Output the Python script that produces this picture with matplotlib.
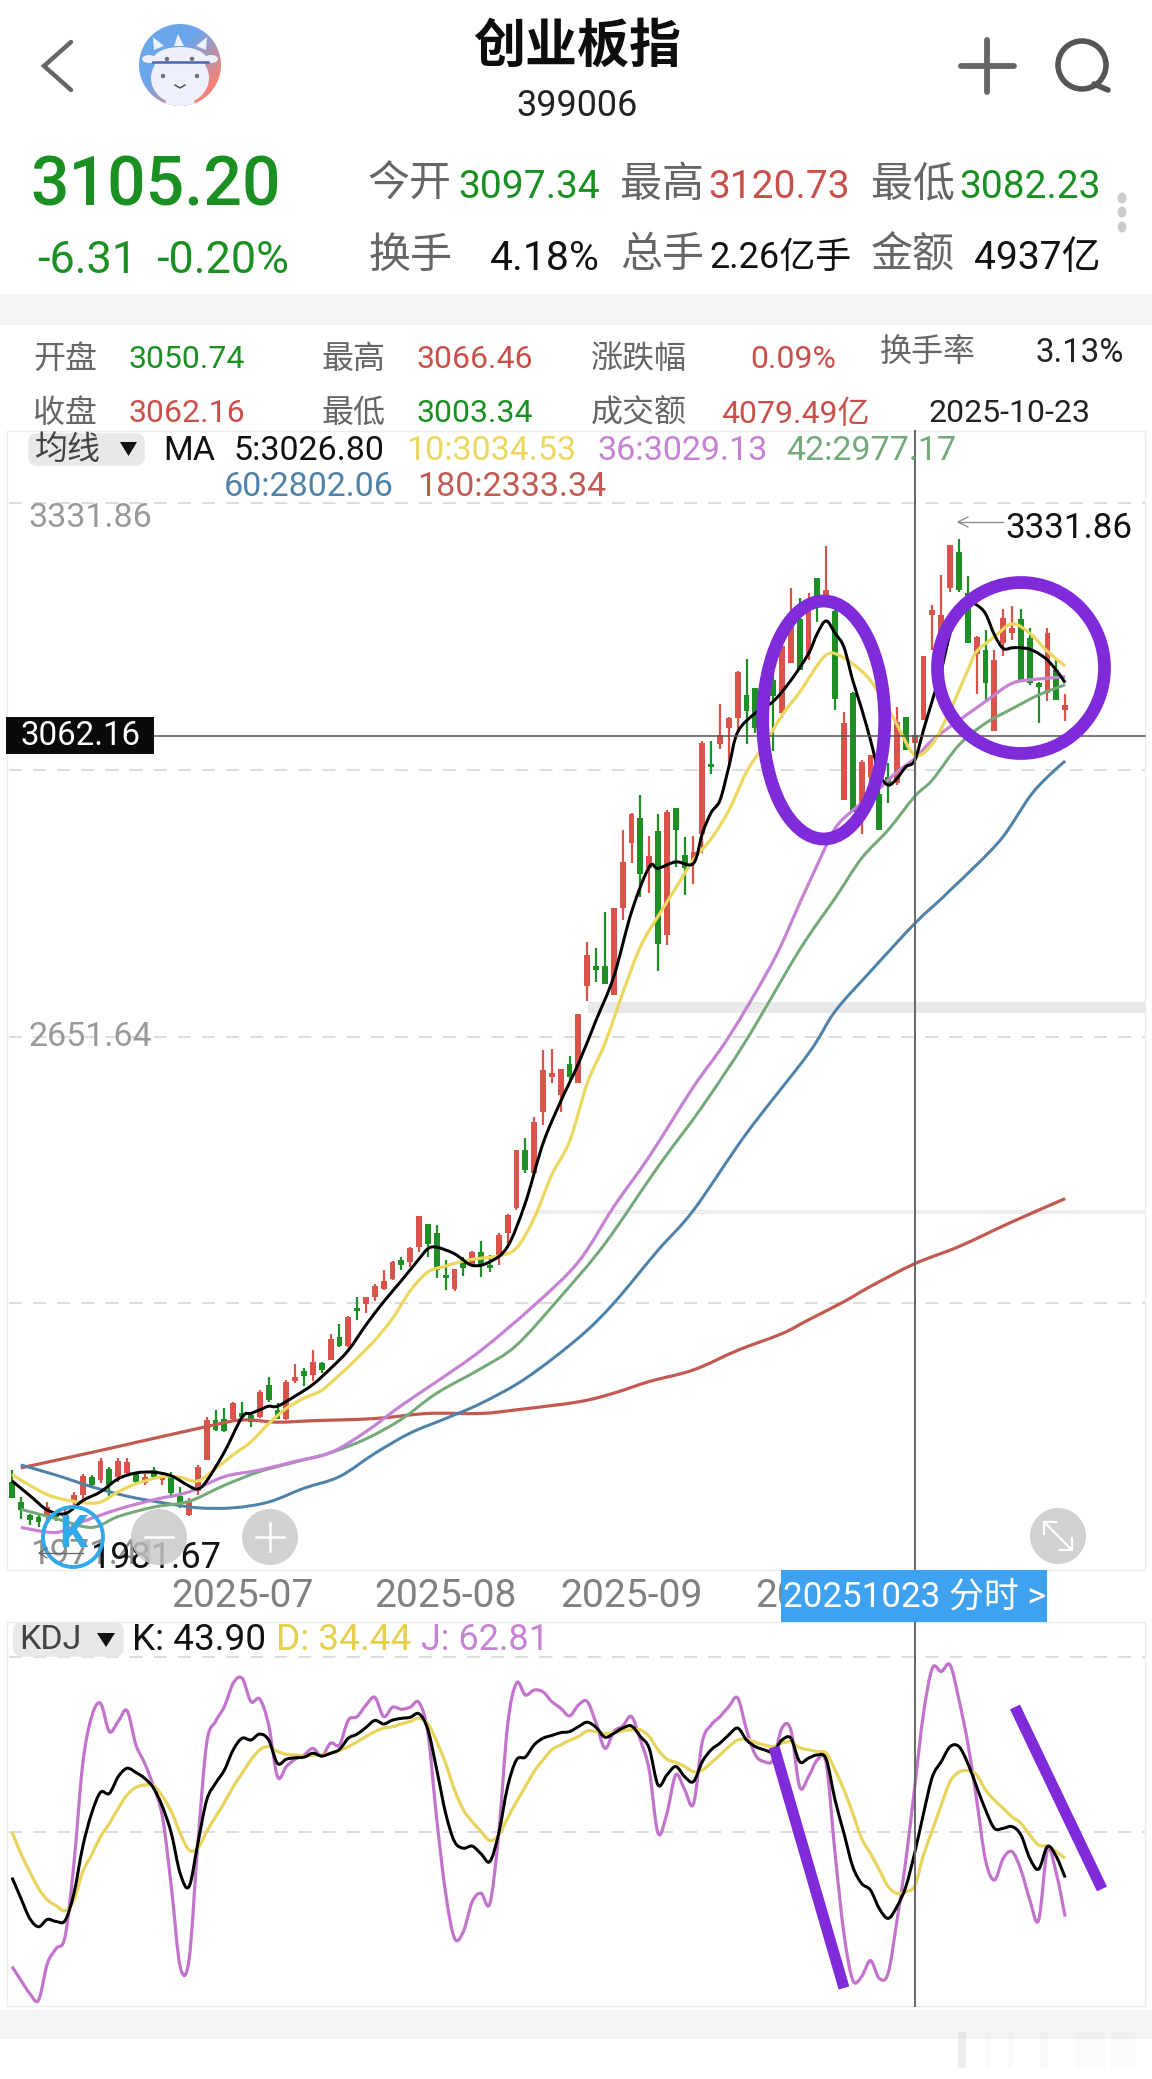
import numpy as np
import matplotlib
matplotlib.use("Agg")
import matplotlib.pyplot as plt
from matplotlib.patches import Circle, Ellipse, FancyBboxPatch, PathPatch, Polygon, Rectangle
from matplotlib.path import Path

plt.rcParams['font.family'] = ['Roboto', 'Noto Sans CJK SC', 'DejaVu Sans']

# Daily candles
opens = [2033,2005,1987,1985,1985,1989,1985,2005,2014,2039,2035,2050,2040,2045,2043,2031,2049,2035,2039,2013,
         1987,2020,2063,2118,2120,2120,2127,2125,2122,2166,2132,2120,2172,2186,2180,2196,2201,2232,2220,2272,
         2278,2288,2299,2312,2339,2336,2357,2388,2375,2318,2299,2336,2332,2350,2332,2343,2375,2410,2490,2459,
         2543,2591,2566,2609,2582,2716,2743,2743,2704,2823,2913,2947,2878,2930,2786,2961,2897,2885,2926,3022,
         3050,3071,3085,3117,3126,3101,3138,3092,3161,3221,3174,3278,3255,3232,2972,3120,2945,3004,2981,3004,
         2995,3087,3050.74,3082,3227,3202,3264,3314,3257,3174,3179,3068,3188,3202,3221,3195,3133,3120,3151,3096]
closes = [2011,1994,1980,1978,1998,1985,1989,2014,2041,2028,2062,2028,2062,2060,2033,2039,2040,2040,2017,2003,
          2005,2053,2118,2104,2103,2142,2122,2115,2157,2146,2120,2171,2177,2178,2198,2187,2229,2220,2260,2268,
          2287,2302,2310,2336,2331,2355,2399,2361,2325,2313,2326,2327,2350,2332,2327,2373,2400,2490,2463,2529,
          2600,2596,2601,2591,2678,2759,2738,2719,2823,2887,2953,2870,2895,2774,2956,2931,2878,2901,3051,3018,
          3062,3085,3148,3095,3071,3142,3115,3184,3218,3151,3232,3252,3262,3112,3078,2956,3025,3034,2931,2995,
          3080,3041,3062.16,3170,3234,3227,3324,3262,3188,3197,3134,3165,3223,3209,3138,3133,3128,3202,3110,3103]
highs = [2049,2012,1989,1990,2005,1991,1998,2019,2043,2042,2065,2053,2066,2066,2047,2044,2053,2045,2047,2025,
         2010,2056,2122,2132,2135,2143,2143,2129,2159,2177,2141,2173,2195,2190,2214,2198,2236,2250,2261,2288,
         2288,2305,2324,2337,2343,2357,2399,2388,2387,2338,2326,2343,2351,2364,2345,2376,2402,2490,2506,2536,
         2628,2629,2601,2619,2678,2777,2768,2818,2823,2931,2955,2979,2923,2953,2959,2961,2921,2923,3053,3054,
         3104,3087,3150,3167,3126,3151,3156,3184,3265,3250,3257,3278,3322,3234,3094,3121,3027,3034,3004,3023,
         3100,3087,3066.46,3170,3241,3282,3324,3331.86,3281,3198,3206,3179,3236,3239,3236,3209,3135,3209,3165,3118]
lows = [2011,1981,1973,1971,1980,1979,1978,2001,2005,2025,2031,2013,2033,2042,2031,2028,2035,2029,2011,1997,
        1986,2014,2063,2103,2102,2118,2118,2109,2121,2143,2119,2118,2169,2165,2172,2183,2200,2219,2219,2256,
        2265,2282,2297,2311,2324,2329,2349,2342,2313,2297,2296,2316,2330,2315,2322,2332,2361,2407,2458,2458,
        2524,2582,2543,2582,2582,2696,2722,2719,2704,2807,2885,2839,2844,2737,2772,2880,2841,2857,2899,3008,
        3043,3023,3064,3050,3064,3087,3040,3085,3161,3151,3165,3218,3239,3096,2972,2956,2926,2996,2931,2968,
        2993,3041,3003.34,3082,3179,3128,3259,3259,3188,3119,3110,3068,3170,3193,3138,3131,3078,3108,3110,3081]

# Moving averages, read at the days listed
ma5_days = [0,2,4,6,8,10,12,14,16,18,20,21,22,24,26,27,28,29,30,32,34,36,38,40,42,44,46,47,48,50,52,54,56,58,60,62,64,66,68,
            70,72,73,75,77,78,79,80,81,82,84,86,88,90,91,92,93,94,95,96,97,98,99,100,101,102,103,104,105,106,107,108,109,
            110,111,112,113,114,115,116,117,118,119]
ma5 = [2034,2014,1994,1989,2007,2019,2037,2045,2046,2041,2027,2023,2034,2074,2122,2127,2132,2137,2137,2151,2167,2189,2214,
       2249,2281,2310,2340,2354,2356,2347,2331,2336,2357,2417,2499,2557,2609,2669,2729,2818,2880,2878,2887,2885,2926,2955,
       2972,3018,3066,3092,3108,3137,3174,3202,3219,3202,3183,3137,3098,3055,3009,2993,3002,3018,3026.8,3069,3110,3151,3202,
       3234,3245,3241,3229,3200,3181,3182,3182,3180,3174,3165,3151,3134]
ma10_days = [0,3,5,8,10,12,14,17,19,21,23,25,27,29,31,33,35,37,39,41,43,45,47,49,51,53,55,57,59,61,63,65,67,69,71,73,75,77,79,
             81,83,85,87,89,91,92,93,95,97,99,100,102,104,106,108,109,111,113,115,117,119]
ma10 = [2043,2021,2011,2004,2005,2019,2030,2040,2039,2034,2051,2070,2088,2113,2134,2148,2159,2180,2203,2228,2258,2296,2322,
        2330,2337,2341,2344,2355,2396,2456,2502,2582,2637,2706,2770,2812,2851,2890,2919,2958,3011,3048,3089,3121,3158,3172,
        3174,3160,3137,3098,3076,3034.53,3050,3096,3151,3177,3197,3215,3202,3177,3157]
ma36_days = [1,5,8,12,16,20,24,28,32,36,40,44,48,53,59,64,68,72,77,81,86,89,91,93,95,98,100,102,104,107,110,113,116,119]
ma36 = [1970,1963,1978,1995,2008,2019,2040,2049,2061,2073,2102,2138,2171,2214,2276,2336,2412,2481,2577,2646,2750,2830,2883,
        2933,2958,2988,3011,3029.13,3055,3082,3108,3133,3139,3142]
ma42_days = [1,5,9,12,16,20,24,28,32,36,40,44,48,53,57,62,67,73,78,83,89,93,96,99,102,104,107,110,113,116,119]
ma42 = [1995,1982,1970,1985,1998,2006,2028,2047,2060,2073,2092,2119,2155,2189,2221,2288,2361,2467,2550,2642,2766,2837,2892,
        2931,2977.17,3000,3048,3078,3098,3117,3131]
ma60_days = [1,5,9,13,17,21,25,29,33,37,41,45,49,53,58,64,68,73,77,83,90,93,97,102,105,106,109,112,115,117,119]
ma60 = [2056,2042,2026,2013,2004,1997,1997,2005,2024,2040,2072,2100,2120,2141,2175,2231,2279,2352,2407,2513,2623,2681,2736,
        2802.06,2836,2848,2883,2922,2977,3004,3026]
ma180_days = [1,10,22,26,30,34,41,47,53,57,64,68,72,77,82,87,90,94,97,102,107,113,119]
ma180 = [2052,2076,2109,2118,2115,2117,2120,2127,2127,2132,2143,2155,2171,2187,2214,2237,2256,2281,2302,2333.34,2357,2391,2423]

# KDJ, one value per day
k_vals = [36.8,30.9,25.1,22.7,24.8,24.2,24.5,32.3,45.7,55.2,61.2,60.9,65.7,68.1,66.9,65.2,62.4,57.1,49.5,38.0,
          34.2,46.6,59.0,63.8,67.6,73.4,76.7,76.2,77.9,76.2,69.5,70.7,71.1,71.3,72.4,71.6,72.4,73.5,76.7,77.9,
          79.8,81.8,80.8,81.9,82.4,82.7,83.7,79.1,67.6,55.2,47.1,45.2,45.8,43.6,41.4,49.5,62.8,70.5,71.3,74.8,
          76.7,77.5,78.3,78.6,80.0,81.3,79.8,77.0,78.1,79.6,80.2,77.2,73.8,63.3,66.2,68.6,65.7,64.3,70.0,73.4,
          75.3,77.7,79.6,76.2,74.3,73.4,72.9,76.2,76.7,70.0,71.0,71.9,70.7,59.0,49.5,39.9,35.1,33.2,27.9,25.1,
          28.5,34.2,43.9,55.2,65.7,70.0,74.3,74.3,69.5,62.8,56.2,50.9,50.9,51.4,49.0,42.3,39.2,45.7,42.8,36.8]
d_vals = [49.8,43.7,38.5,33.7,30.4,28.7,27.3,30.4,38.5,43.3,48.5,52.3,56.6,60.5,62.6,63.3,63.1,60.1,55.7,49.5,
          44.7,45.2,50.0,54.2,58.3,62.8,66.7,70.5,73.4,74.3,72.9,72.1,71.9,71.6,71.8,71.9,72.4,73.2,74.3,75.7,
          77.2,78.6,79.6,80.0,80.8,81.5,82.4,80.8,75.7,69.5,61.9,56.2,52.8,50.0,47.4,49.0,53.8,58.5,62.8,67.2,
          70.5,73.4,74.8,76.1,77.2,78.8,78.6,78.1,78.3,78.8,79.1,79.1,77.2,73.4,70.7,69.8,68.6,67.1,67.6,69.7,
          71.9,74.3,76.2,76.4,75.5,74.8,74.3,75.3,75.7,74.0,73.4,72.9,72.4,67.6,61.9,55.2,48.0,43.7,39.0,34.2,
          32.3,32.8,34.44,43.3,50.4,57.6,64.3,67.0,67.4,66.2,61.9,59.0,56.6,54.2,52.3,49.0,46.1,45.8,44.2,42.3]
j_vals = [11.3,7.4,3.6,1.7,12.2,16.5,19.9,40.9,69.5,82.9,86.7,78.6,81.5,84.6,74.8,69.5,62.8,54.2,34.2,11.3,
          13.2,46.6,75.3,81.5,85.8,92.5,93.9,87.2,87.9,80.5,65.7,68.6,70.7,71.9,73.8,71.6,75.3,74.8,81.9,82.9,
          86.2,88.4,82.9,85.6,85.0,85.6,86.9,78.1,53.3,32.3,19.4,21.3,29.9,32.3,29.4,49.5,80.5,92.5,89.1,90.5,
          90.0,87.2,85.3,83.1,86.2,87.2,81.0,73.8,78.6,80.2,82.9,76.2,67.6,49.5,55.2,66.2,62.0,57.9,75.7,80.5,
          82.9,85.8,88.2,79.1,71.9,70.0,70.5,79.6,79.1,62.8,65.7,70.5,69.5,43.7,20.8,7.4,8.4,13.0,7.9,9.4,
          24.6,41.8,62.81,83.9,96.8,95.8,97.7,87.7,75.3,59.0,41.8,36.1,42.3,44.2,39.0,30.4,24.6,44.7,38.0,25.6]

month_days = [26, 49, 70, 92]
month_labels = ["2025-07", "2025-08", "2025-09", "2025-10"]

RED = '#d9534a'
GREEN = '#1d8f25'
TXT_RED = '#c9504a'
TXT_GREEN = '#1a8f22'
GRAY = '#666666'
YELLOW = '#ecd75f'
PURPLE = '#c682d3'
MA_GREEN = '#74a97a'
BLUE = '#4f82a8'
BROWN = '#c25a52'
VIOLET = '#7f2bd9'

W, H = 1152, 2079
fig = plt.figure(figsize=(W/100, H/100), dpi=100)


def px_axes(z):
    a = fig.add_axes([0, 0, 1, 1], zorder=z)
    a.set_xlim(0, W)
    a.set_ylim(H, 0)
    a.axis('off')
    a.patch.set_alpha(0)
    return a


def chart_axes(top, bottom):
    a = fig.add_axes([7/W, 1-bottom/H, 1138/W, (bottom-top)/H], zorder=2)
    a.patch.set_alpha(0)
    for s in a.spines.values():
        s.set_color('#ececec')
        s.set_linewidth(1.0)
    a.set_xlim(-0.565, 128.02)
    return a


def curve(a, x, y, color, lw, z=3):
    # smooth line through the read values
    p = np.column_stack([x, y]).astype(float)
    p = np.vstack([p[0], p, p[-1]])
    verts = [p[1]]
    for i in range(1, len(p)-2):
        verts.append(p[i] + (p[i+1]-p[i-1])/6)
        verts.append(p[i+1] - (p[i+2]-p[i])/6)
        verts.append(p[i+1])
    codes = [Path.MOVETO] + [Path.CURVE4]*(len(verts)-1)
    a.add_patch(PathPatch(Path(verts, codes), fill=False, edgecolor=color, lw=lw*0.72, zorder=z, capstyle='butt'))


bg = px_axes(0)
top = px_axes(5)


def T(x, y, s, px, color='#222222', ha='left', a=top, **kw):
    return a.text(x, y, s, fontsize=px*0.72, color=color, ha=ha, va='center', **kw)


def dashed(y):
    bg.plot([9, 1145], [y, y], color='#dcdcdc', lw=1.4, linestyle=(0, (6.7, 5.7)))


# page bands and chart background bits
bg.add_patch(Rectangle((0, 294), W, 31, color='#f5f5f5', lw=0))
bg.add_patch(Rectangle((0, 2010), W, 29, color='#f4f4f4', lw=0))
bg.add_patch(Rectangle((588, 1002), 557, 11, color='#e9e9e9', lw=0))
bg.add_patch(Rectangle((527, 1210), 618, 4, color='#eeeeee', lw=0))
for y in [503, 770, 1037, 1303, 1657, 1832]:
    dashed(y)
for x0, w0, al in [(958, 8, 0.16), (985, 5, 0.04), (1008, 6, 0.05), (1040, 8, 0.05), (1075, 30, 0.04), (1110, 25, 0.04)]:
    bg.add_patch(Rectangle((x0, 2032), w0, 36, color='#999999', alpha=al, lw=0))

# candles and moving averages
price = chart_axes(431, 1570)
price.set_ylim(1911.3, 3480.7)
days = np.arange(len(opens))
opens_a, closes_a = np.array(opens), np.array(closes)
colors = [RED if c >= o else GREEN for o, c in zip(opens, closes)]
price.vlines(days, lows, highs, colors=colors, lw=1.6, zorder=2)
price.bar(days, np.abs(closes_a-opens_a), bottom=np.minimum(opens_a, closes_a), width=0.66, color=colors, lw=0, zorder=2)
curve(price, ma180_days, ma180, BROWN, 3.2)
curve(price, ma60_days, ma60, BLUE, 3.0)
curve(price, ma42_days, ma42, MA_GREEN, 3.0)
curve(price, ma36_days, ma36, PURPLE, 3.2)
curve(price, ma10_days, ma10, YELLOW, 3.2)
curve(price, ma5_days, ma5, '#000000', 3.0)
price.set_yticks([])
price.set_xticks(month_days)
price.set_xticklabels(month_labels, fontsize=39*0.72, color='#808080')
price.tick_params(axis='x', length=0, pad=6)

# KDJ panel
kdj = chart_axes(1622, 2006)
kdj.set_ylim(0, 110)
kdj.set_xticks([])
kdj.set_yticks([])
curve(kdj, days, j_vals, '#c273cc', 3.2)
curve(kdj, days, d_vals, '#e8d35c', 3.2)
curve(kdj, days, k_vals, '#000000', 3.0)

# crosshair
top.plot([915, 915], [431, 2006], color='#666666', lw=1.4, zorder=1)
top.plot([7, 1145], [736, 736], color='#555555', lw=1.1, zorder=1)
top.add_patch(Rectangle((6, 717), 148, 37, color='#0a0a0a', lw=0, zorder=2))
T(80, 736, "3062.16", 33, 'white', ha='center', zorder=3)

# header
top.plot([71, 44, 71], [42, 66, 90], color='#666666', lw=3.2, solid_capstyle='round', solid_joinstyle='miter')
circ = Circle((180, 65), 41, transform=top.transData)
gx, gy = np.meshgrid(np.linspace(0, 1, 48), np.linspace(0, 1, 48))
mix_red = np.clip((gx + gy - 0.8) * 1.2, 0, 1)[..., None]
img = (1-mix_red)*np.array([0.42, 0.65, 0.92]) + mix_red*np.array([0.95, 0.52, 0.48])
im = top.imshow(img, extent=(139, 221, 106, 24), aspect='auto', zorder=1)
im.set_clip_path(circ)
top.set_xlim(0, W)
top.set_ylim(H, 0)
cow = '#eef1fb'
top.add_patch(Ellipse((180, 78), 58, 52, color=cow, lw=0, zorder=2))
top.add_patch(Ellipse((180, 60), 54, 26, color=cow, lw=0, zorder=2))
top.add_patch(Ellipse((180, 105), 30, 22, color=cow, lw=0, zorder=2, clip_path=circ))
top.add_patch(Ellipse((149, 59), 14, 8, color=cow, lw=0, zorder=2))
top.add_patch(Ellipse((211, 59), 14, 8, color=cow, lw=0, zorder=2))
top.add_patch(Polygon([(154, 50), (153, 37), (164, 46)], color=cow, lw=0, zorder=2))
top.add_patch(Polygon([(206, 50), (207, 37), (196, 46)], color=cow, lw=0, zorder=2))
top.add_patch(Polygon([(174, 46), (178, 34), (184, 46)], color=cow, lw=0, zorder=2))
top.plot([153, 208], [62, 62], color='#4a64b8', lw=1.8, zorder=3)
for ex, ey in [(167, 59), (192, 59), (163, 76), (197, 76)]:
    top.add_patch(Circle((ex, ey), 2.2, color='#6a6f80', lw=0, zorder=3))
top.plot([175, 180, 185], [85, 88, 85], color='#444444', lw=1, zorder=3)
T(577, 48, "创业板指", 52, '#0d0d0d', ha='center', fontweight='bold')
T(577, 106, "399006", 36, '#222222', ha='center')
top.plot([961, 1014], [66, 66], color='#666666', lw=4.2, solid_capstyle='round')
top.plot([987, 987], [40, 92], color='#666666', lw=4.2, solid_capstyle='round')
top.add_patch(Circle((1082, 65), 24, fill=False, ec='#555555', lw=4))
top.plot([1094, 1108], [84, 90], color='#555555', lw=4, solid_capstyle='round')

# quote block
T(30, 186, "3105.20", 68, TXT_GREEN, fontweight='medium')
T(37, 261, "-6.31", 45, TXT_GREEN)
T(156, 261, "-0.20%", 45, TXT_GREEN)
T(368, 185, "今开", 42, GRAY)
T(458, 187, "3097.34", 39, TXT_GREEN)
T(620, 185, "最高", 42, GRAY)
T(708, 187, "3120.73", 39, TXT_RED)
T(871, 185, "最低", 42, GRAY)
T(959, 187, "3082.23", 39, TXT_GREEN)
T(368, 256, "换手", 42, GRAY)
T(600, 258, "4.18%", 41, '#111111', ha='right')
T(620, 256, "总手", 42, GRAY)
T(709, 258, "2.26亿手", 36, '#111111')
T(871, 256, "金额", 42, GRAY)
T(1101, 258, "4937亿", 39, '#111111', ha='right')
for y in [198, 212, 227]:
    top.add_patch(Ellipse((1122, y), 9, 11, color='#c8ccd0', lw=0))

# day detail rows
T(33, 359, "开盘", 32, GRAY)
T(129, 360, "3050.74", 32, TXT_GREEN)
T(321, 359, "最高", 32, GRAY)
T(417, 360, "3066.46", 32, TXT_RED)
T(591, 359, "涨跌幅", 32, GRAY)
T(836, 360, "0.09%", 32, TXT_RED, ha='right')
T(880, 352, "换手率", 32, GRAY)
T(1124, 353, "3.13%", 33, '#222222', ha='right')
T(33, 413, "收盘", 32, GRAY)
T(129, 414, "3062.16", 32, TXT_RED)
T(321, 413, "最低", 32, GRAY)
T(417, 414, "3003.34", 32, TXT_GREEN)
T(591, 413, "成交额", 32, GRAY)
T(721, 414, "4079.49亿", 32, TXT_RED)
T(928, 414, "2025-10-23", 32, '#222222')

# MA legend
top.add_patch(FancyBboxPatch((31, 436), 111, 27, boxstyle="round,pad=0,rounding_size=6", mutation_aspect=1, fc='#e8e8e8', ec='#e8e8e8', lw=4))
T(35, 451, "均线", 33, '#444444')
top.add_patch(Polygon([(120, 442), (137, 442), (128.5, 456)], color='#111111', lw=0))
T(163, 451, "MA", 34, '#111111')
T(234, 451, "5:3026.80", 34, '#111111')
T(406, 451, "10:3034.53", 34, YELLOW)
T(597, 451, "36:3029.13", 34, PURPLE)
T(786, 451, "42:2977.17", 34, MA_GREEN)
T(224, 487, "60:2802.06", 34, BLUE)
T(417, 487, "180:2333.34", 34, BROWN)

# axis values and extreme markers
T(28, 518, "3331.86", 34, '#999999')
T(28, 1037, "2651.64", 34, '#999999')
price.text(30, 1555, "1971.41", fontsize=35*0.72, color='#8f8f8f', ha='left', va='center', transform=top.transData, clip_on=True, zorder=6)
price.text(91, 1558, "1981.67", fontsize=36*0.72, color='#111111', ha='left', va='center', transform=top.transData, clip_on=True, zorder=6)
top.plot([958, 1003], [522, 522], color='#888888', lw=0.9)
top.plot([968, 958, 968], [517, 522, 527], color='#888888', lw=0.9)
T(1005, 528, "3331.86", 35, '#111111')
top.plot([39, 83], [1553, 1553], color='#666666', lw=0.9)
top.plot([47, 39, 47], [1548, 1553, 1558], color='#666666', lw=0.9)

# round buttons on the chart
top.add_patch(Circle((73, 1537), 30, fill=False, ec='#2fa9e8', lw=2.8))
T(73, 1535, "K", 44, '#2fa9e8', ha='center', fontweight='bold')
for cx in [159, 270]:
    top.add_patch(Circle((cx, 1537), 28, color='#c9c9c9', alpha=0.85, lw=0))
top.plot([145, 173], [1537, 1537], color='white', lw=1.8)
top.plot([256, 284], [1537, 1537], color='white', lw=1.8)
top.plot([270, 270], [1523, 1551], color='white', lw=1.8)
top.add_patch(Circle((1058, 1536), 28, color='#c9c9c9', alpha=0.85, lw=0))
top.plot([1044, 1072], [1522, 1550], color='white', lw=1.6)
top.plot([1044, 1044, 1056], [1534, 1522, 1522], color='white', lw=1.6)
top.plot([1072, 1072, 1060], [1538, 1550, 1550], color='white', lw=1.6)

# blue date tab
top.add_patch(Rectangle((781, 1570), 266, 52, color='#3fa2f0', lw=0, zorder=4))
T(914, 1597, "20251023 分时 >", 35, 'white', ha='center', zorder=5)

# KDJ legend
top.add_patch(FancyBboxPatch((16, 1625), 105, 29, boxstyle="round,pad=0,rounding_size=6", fc='#e8e8e8', ec='#e8e8e8', lw=4))
T(19, 1640, "KDJ", 34, '#444444')
top.add_patch(Polygon([(97, 1633), (115, 1633), (106, 1647)], color='#111111', lw=0))
T(132, 1640, "K: 43.90", 37, '#111111')
T(276, 1640, "D: 34.44", 37, '#e6cf4a')
T(421, 1640, "J: 62.81", 36, PURPLE)

# hand drawn marks
top.add_patch(Ellipse((823.7, 720), 122, 238, fill=False, ec=VIOLET, lw=9.2, zorder=4))
top.add_patch(Ellipse((1021, 668), 167, 171, fill=False, ec=VIOLET, lw=9.2, zorder=4))
top.plot([774, 844], [1747, 1988], color=VIOLET, lw=8, solid_capstyle='butt', zorder=4)
top.plot([1015, 1102], [1707, 1889], color=VIOLET, lw=8, solid_capstyle='butt', zorder=4)

fig.savefig("out.png", dpi=100, facecolor='white')
